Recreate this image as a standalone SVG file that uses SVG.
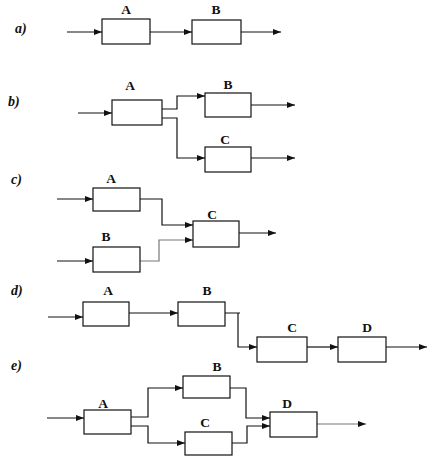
<svg xmlns="http://www.w3.org/2000/svg" width="436" height="460" viewBox="0 0 436 460">
<style>
.box{fill:#fff;stroke:#111;stroke-width:1.2}
.ln{fill:none;stroke:#111;stroke-width:1.2}
.gr{stroke:#777}
.lbl{font-family:"Liberation Serif",serif;font-weight:bold;font-size:13.5px;fill:#111;text-anchor:middle}
.tag{font-family:"Liberation Serif",serif;font-style:italic;font-weight:bold;font-size:14px;fill:#111}
</style>
<defs>
<marker id="ah" markerWidth="8" markerHeight="6" refX="8" refY="3" orient="auto" markerUnits="userSpaceOnUse">
<path d="M0,0 L8,3 L0,6 Z" fill="#111"/>
</marker>
</defs>
<g id="tags">
<text class="tag" x="15" y="33">a)</text>
<text class="tag" x="8" y="106">b)</text>
<text class="tag" x="11" y="184">c)</text>
<text class="tag" x="11" y="295">d)</text>
<text class="tag" x="11" y="370">e)</text>
</g>
<g id="connectors">
<path class="ln" d="M67,32 H102" marker-end="url(#ah)"/>
<path class="ln" d="M150,32 H192" marker-end="url(#ah)"/>
<path class="ln" d="M241,32 H281" marker-end="url(#ah)"/>
<path class="ln" d="M78,113 H112" marker-end="url(#ah)"/>
<path class="ln" d="M162,109 H177 V96 H205" marker-end="url(#ah)"/>
<path class="ln" d="M162,118 H177 V158 H205" marker-end="url(#ah)"/>
<path class="ln" d="M251,105 H295" marker-end="url(#ah)"/>
<path class="ln" d="M251,158 H295" marker-end="url(#ah)"/>
<path class="ln" d="M57,199 H93" marker-end="url(#ah)"/>
<path class="ln" d="M57,261 H93" marker-end="url(#ah)"/>
<path class="ln" d="M140,199 H162 V225 H193" marker-end="url(#ah)"/>
<path class="ln gr" d="M140,261 H159 V240 H193" marker-end="url(#ah)"/>
<path class="ln" d="M239,233 H276" marker-end="url(#ah)"/>
<path class="ln" d="M48,317 H83" marker-end="url(#ah)"/>
<path class="ln" d="M129,313 H178" marker-end="url(#ah)"/>
<path class="ln" d="M225,313 H240 M238,313 V347 H257" marker-end="url(#ah)"/>
<path class="ln" d="M307,347 H338" marker-end="url(#ah)"/>
<path class="ln" d="M386,347 H427" marker-end="url(#ah)"/>
<path class="ln" d="M47,418 H84" marker-end="url(#ah)"/>
<path class="ln" d="M131,417 H148 V388 H183" marker-end="url(#ah)"/>
<path class="ln" d="M131,426 H148 V443 H185" marker-end="url(#ah)"/>
<path class="ln" d="M230,388 H246 V418 H270" marker-end="url(#ah)"/>
<path class="ln" d="M232,443 H247 V426 H270" marker-end="url(#ah)"/>
<path class="ln gr" d="M317,424 H366" marker-end="url(#ah)"/>
</g>
<g id="a-A"><rect class="box" x="102" y="19" width="48" height="25"/><text class="lbl" x="126" y="14">A</text></g>
<g id="a-B"><rect class="box" x="192" y="20" width="49" height="24"/><text class="lbl" x="216" y="14">B</text></g>
<g id="b-A"><rect class="box" x="112" y="100" width="50" height="25"/><text class="lbl" x="130" y="90">A</text></g>
<g id="b-B"><rect class="box" x="205" y="93" width="46" height="24"/><text class="lbl" x="228" y="89">B</text></g>
<g id="b-C"><rect class="box" x="205" y="147" width="46" height="25"/><text class="lbl" x="225" y="144">C</text></g>
<g id="c-A"><rect class="box" x="93" y="188" width="47" height="23"/><text class="lbl" x="111" y="183">A</text></g>
<g id="c-B"><rect class="box" x="93" y="247" width="47" height="25"/><text class="lbl" x="106" y="241">B</text></g>
<g id="c-C"><rect class="box" x="193" y="221" width="46" height="26"/><text class="lbl" x="212" y="219">C</text></g>
<g id="d-A"><rect class="box" x="83" y="302" width="46" height="24"/><text class="lbl" x="108" y="295">A</text></g>
<g id="d-B"><rect class="box" x="178" y="302" width="47" height="24"/><text class="lbl" x="207" y="295">B</text></g>
<g id="d-C"><rect class="box" x="257" y="337" width="50" height="25"/><text class="lbl" x="292" y="332">C</text></g>
<g id="d-D"><rect class="box" x="338" y="337" width="48" height="25"/><text class="lbl" x="367" y="332">D</text></g>
<g id="e-A"><rect class="box" x="84" y="410" width="47" height="24"/><text class="lbl" x="103" y="408">A</text></g>
<g id="e-B"><rect class="box" x="183" y="376" width="47" height="22"/><text class="lbl" x="217" y="371">B</text></g>
<g id="e-C"><rect class="box" x="185" y="432" width="47" height="23"/><text class="lbl" x="205" y="427">C</text></g>
<g id="e-D"><rect class="box" x="270" y="412" width="47" height="25"/><text class="lbl" x="287" y="408">D</text></g>
</svg>
